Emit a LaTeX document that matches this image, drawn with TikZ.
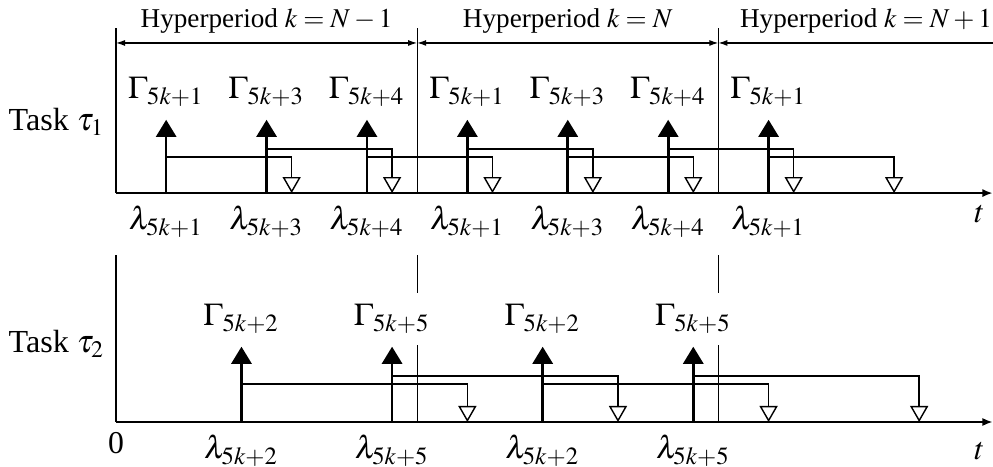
\documentclass[tikz,border=0pt]{standalone}
\usepackage{amsmath}
\usepackage{mathptmx}
\usepackage{fontspec}
\setmainfont{Liberation Serif}
\usetikzlibrary{arrows.meta}

\begin{document}
\begin{tikzpicture}[x=1cm, y=1cm, font=\fontsize{9}{11}\selectfont,
    rel/.style={line width=0.75pt, -{Triangle[length=1.7mm,width=2mm]}},
    dl/.style={line width=0.4pt, -{Triangle[open,length=1.6mm,width=1.8mm,fill=white]}},
    axis/.style={line width=0.45pt, -{Latex[length=1mm,width=0.8mm]}},
    bar/.style={line width=0.35pt},
    hyper/.style={line width=0.35pt, {Latex[length=0.9mm,width=0.6mm]}-{Latex[length=0.9mm,width=0.6mm]}},
    hp/.style={anchor=base, font=\fontsize{7.7}{10}\selectfont},
    task/.style={anchor=base west, inner sep=0pt, font=\fontsize{9.1}{11}\selectfont}]
    \useasboundingbox (-1.155,-0.448) rectangle (8.735,4.203);
    % hyperperiod borders
    \draw[bar] (0,2.28) -- (0,3.92);
    \draw[bar] (3,2.28) -- (3,3.92);
    \draw[bar] (6,2.28) -- (6,3.92);
    \draw[bar] (0,0) -- (0,1.66);
    \draw[bar] (3,0) -- (3,1.66);
    \draw[bar] (6,0) -- (6,1.66);
    % hyperperiods
    \draw[hyper] (0,3.775) -- (3,3.775);
    \draw[hyper] (3,3.775) -- (6,3.775);
    \draw[bar, {Latex[length=0.9mm,width=0.6mm]}-] (6,3.775) -- (8.74,3.775);
    \node[hp] (hp1) at (1.5,3.93) {Hyperperiod $k=N-1$};
    \node[hp] (hp2) at (4.5,3.93) {Hyperperiod $k=N$};
    \node[hp] (hp3) at (7.47,3.93) {Hyperperiod $k=N+1$};
    % time axes
    \draw[axis] (0,2.28) -- (8.73,2.28);
    \draw[axis] (0,0) -- (8.73,0);
    \node[anchor=base] (t1) at (8.6,1.99) {$t$};
    \node[anchor=base] (t2) at (8.6,-0.378) {$t$};
    \node[anchor=base] (zero) at (0,-0.309) {0};
    \node[task] (task1) at (-1.075,2.9) {Task $\tau_1$};
    \node[task] (task2) at (-1.075,0.69) {Task $\tau_2$};
    % task 1: deadlines
    \draw[dl] (0.5,2.64) -| (1.75,2.28);
    \draw[dl] (1.5,2.72) -| (2.75,2.28);
    \draw[dl] (2.5,2.64) -| (3.75,2.28);
    \draw[dl] (3.5,2.72) -| (4.75,2.28);
    \draw[dl] (4.5,2.64) -| (5.75,2.28);
    \draw[dl] (5.5,2.72) -| (6.75,2.28);
    \draw[dl] (6.5,2.64) -| (7.75,2.28);
    % task 1: releases
    \draw[rel] (0.5,2.28) node[below] (la1) {$\lambda_{5k+1}$} -- (0.5,3.01) node[above] (ga1) {$\Gamma_{5k+1}$};
    \draw[rel] (1.5,2.28) node[below] (la3) {$\lambda_{5k+3}$} -- (1.5,3.01) node[above] (ga3) {$\Gamma_{5k+3}$};
    \draw[rel] (2.5,2.28) node[below] (la4) {$\lambda_{5k+4}$} -- (2.5,3.01) node[above] (ga4) {$\Gamma_{5k+4}$};
    \draw[rel] (3.5,2.28) node[below] (lb1) {$\lambda_{5k+1}$} -- (3.5,3.01) node[above] (gb1) {$\Gamma_{5k+1}$};
    \draw[rel] (4.5,2.28) node[below] (lb3) {$\lambda_{5k+3}$} -- (4.5,3.01) node[above] (gb3) {$\Gamma_{5k+3}$};
    \draw[rel] (5.5,2.28) node[below] (lb4) {$\lambda_{5k+4}$} -- (5.5,3.01) node[above] (gb4) {$\Gamma_{5k+4}$};
    \draw[rel] (6.5,2.28) node[below] (lc1) {$\lambda_{5k+1}$} -- (6.5,3.01) node[above] (gc1) {$\Gamma_{5k+1}$};
    % task 2: deadlines
    \draw[dl] (1.25,0.38) -| (3.5,0);
    \draw[dl] (2.75,0.46) -| (5,0);
    \draw[dl] (4.25,0.38) -| (6.5,0);
    \draw[dl] (5.75,0.46) -| (8,0);
    % task 2: releases
    \draw[rel] (1.25,0) node[below] (la2) {$\lambda_{5k+2}$} -- (1.25,0.75) node[above, fill=white] (ga2) {$\Gamma_{5k+2}$};
    \draw[rel] (2.75,0) node[below] (la5) {$\lambda_{5k+5}$} -- (2.75,0.75) node[above, fill=white] (ga5) {$\Gamma_{5k+5}$};
    \draw[rel] (4.25,0) node[below] (lb2) {$\lambda_{5k+2}$} -- (4.25,0.75) node[above, fill=white] (gb2) {$\Gamma_{5k+2}$};
    \draw[rel] (5.75,0) node[below] (lb5) {$\lambda_{5k+5}$} -- (5.75,0.75) node[above, fill=white] (gb5) {$\Gamma_{5k+5}$};
\end{tikzpicture}
\end{document}
